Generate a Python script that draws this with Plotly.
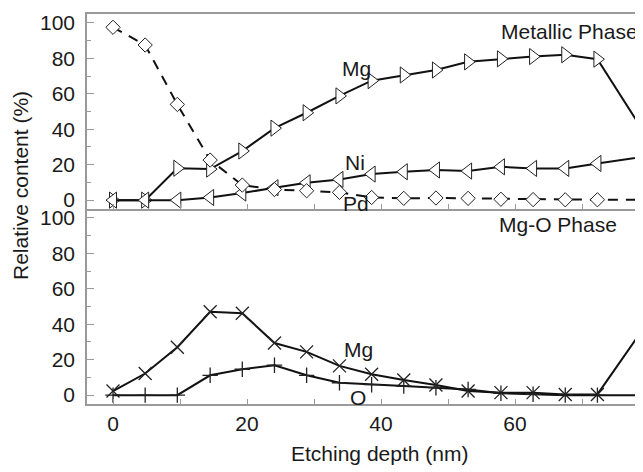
import plotly.graph_objects as go
from plotly.subplots import make_subplots

# Etching depth (nm)
depth = [0, 4.8, 9.6, 14.5, 19.3, 24.1, 28.9, 33.8, 38.6, 43.4, 48.2, 53.0, 57.9, 62.7, 67.5, 72.3, 82.0]

# Metallic phase (%)
mg_metal = [0, 0, 18, 17.5, 27.7, 40.6, 49.3, 58.8, 67.4, 70.6, 73.4, 78, 79.7, 81, 82, 79.5, 22]
ni_metal = [0, 0, 0, 1.5, 4, 7, 9.8, 11.7, 14.7, 16, 17, 16.4, 18.8, 17.9, 17.9, 20.7, 26]
pd_metal = [97.5, 87.5, 54, 22.6, 8.5, 6, 5.3, 4.4, 1.5, 1.0, 1.2, 1.0, 0.5, 0.3, 0.2, 0.2, 0.2]

# Mg-O phase (%)
mg_oxide = [2.3, 12.2, 27, 47, 46.2, 29.4, 24.4, 16.5, 11.8, 8.5, 5.7, 2.3, 1.4, 1.4, 0.4, 0.4, 53]
o_oxide = [0, 0, 0, 11.2, 14.6, 16.9, 11.2, 7, 5.9, 5.1, 4.2, 3.2, 1.1, 0.5, 0, 0, 0]

x_tickvals = [0, 10, 20, 30, 40, 50, 60, 70]
x_ticktext = ["0", "", "20", "", "40", "", "60", ""]
y_tickvals = [0, 20, 40, 60, 80, 100]

FONT = "Liberation Sans, Arial, sans-serif"
TXT = "#1a1a1a"
AX = "#9a9a9a"

W, H = 643, 472
OFF = 8  # page body offset
ml, mr, mt, mb = 87 - OFF, 0, 14 - OFF, H - (404 - OFF)
pw, ph = W - ml - mr, H - mt - mb

fig = make_subplots(rows=2, cols=1, shared_xaxes=True, vertical_spacing=0)

line = dict(color="#111111", width=2)
mk_line = dict(color="#222222", width=1)

fig.add_trace(go.Scatter(x=depth, y=mg_metal, mode="lines+markers", line=line,
                         marker=dict(symbol="triangle-right", size=14, color="white", line=mk_line)), row=1, col=1)
fig.add_trace(go.Scatter(x=depth, y=ni_metal, mode="lines+markers", line=line,
                         marker=dict(symbol="triangle-left", size=14, color="white", line=mk_line)), row=1, col=1)
fig.add_trace(go.Scatter(x=depth, y=pd_metal, mode="lines+markers",
                         line=dict(color="#111111", width=2, dash="10px,8px"),
                         marker=dict(symbol="diamond", size=11, color="white", line=mk_line)), row=1, col=1)

fig.add_trace(go.Scatter(x=depth, y=mg_oxide, mode="lines+markers", line=line,
                         marker=dict(symbol="x-thin", size=13, color="#222222", line=dict(color="#222222", width=1.3))), row=2, col=1)
fig.add_trace(go.Scatter(x=depth, y=o_oxide, mode="lines+markers", line=line,
                         marker=dict(symbol="cross-thin", size=11, color="#222222", line=dict(color="#222222", width=1.3))), row=2, col=1)

x_lo = -3.88
x_hi = x_lo + pw / 6.7
xcommon = dict(range=[x_lo, x_hi], showgrid=False, zeroline=False, showline=True, linecolor=AX,
               linewidth=1.5, ticks="inside", ticklen=5, tickcolor=AX, tickwidth=1.2,
               tickmode="array", tickvals=x_tickvals, ticktext=x_ticktext, automargin=False,
               tickfont=dict(family=FONT, size=21, color=TXT))
ycommon = dict(range=[-5, 105], showgrid=False, zeroline=False, showline=True, linecolor=AX,
               linewidth=1.5, ticks="inside", ticklen=7, tickcolor=AX, tickwidth=1.2,
               tickmode="array", tickvals=y_tickvals, automargin=False, ticklabelstandoff=6,
               minor=dict(tickvals=[10, 30, 50, 70, 90], ticks="inside", ticklen=4, tickcolor=AX, tickwidth=1.2),
               tickfont=dict(family=FONT, size=21, color=TXT))

fig.update_xaxes(**xcommon)
fig.update_xaxes(showticklabels=False, mirror=True, row=1, col=1)
fig.update_xaxes(mirror=False, row=2, col=1)
fig.update_yaxes(**ycommon)

ann = []
def add(text, x, y, xref, yref, **kw):
    d = dict(text=text, x=x, y=y, xref=xref, yref=yref, showarrow=False,
             font=dict(family=FONT, size=21, color=TXT))
    d.update(kw)
    ann.append(d)

add("Metallic Phase", 68.1, 95, "x", "y")
add("Mg", 36.4, 74, "x", "y")
add("Ni", 36.1, 21, "x", "y")
add("Pd", 36.2, -2, "x", "y")
add("Mg-O Phase", 66.4, 96, "x2", "y2")
add("Mg", 36.7, 25.5, "x2", "y2")
add("O", 36.5, -1.5, "x2", "y2")

# screen-pixel placed axis titles
add("Relative content (%)", 20, 186, "paper", "paper", textangle=-90, xanchor="center", yanchor="middle")
add("Etching depth (nm)", 380, 453, "paper", "paper", xanchor="center", yanchor="middle")

for a in ann:
    if a["xref"] == "paper":
        fx = a["x"] - OFF
        fy = a["y"] - OFF
        a["x"] = (fx - ml) / pw
        a["y"] = 1 - (fy - mt) / ph

fig.update_layout(width=W, height=H, margin=dict(l=ml, r=mr, t=mt, b=mb),
                  paper_bgcolor="white", plot_bgcolor="white", showlegend=False,
                  annotations=ann, font=dict(family=FONT, size=21, color=TXT))

fig.write_html("out.html")
